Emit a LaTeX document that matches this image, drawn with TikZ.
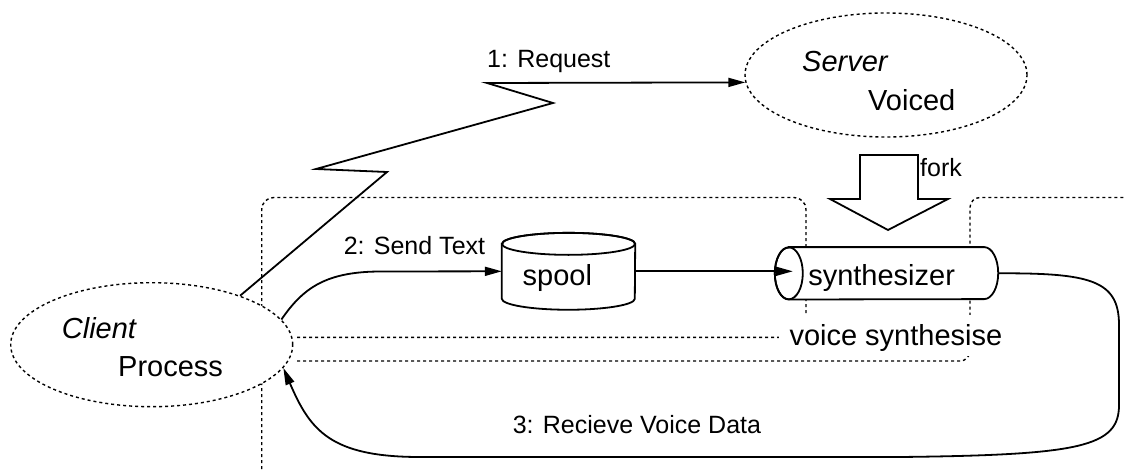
\documentclass[tikz,border=0pt]{standalone}
\usepackage{fontspec}
\setmainfont{Liberation Sans}
\usetikzlibrary{arrows.meta,calc,shapes.geometric}
\pgfdeclarelayer{bg}
\pgfdeclarelayer{drums}
\pgfsetlayers{bg,drums,main}
\tikzset{
  bigtext/.style={font=\fontsize{29}{34}\selectfont},
  bigit/.style={font=\fontsize{29}{34}\selectfont\itshape},
  smalltext/.style={font=\fontsize{25}{30}\selectfont},
  txt/.style={anchor=base west, inner sep=0pt},
  boundary/.style={line width=1.4pt, dash pattern=on 3pt off 3pt},
  proc/.style={ellipse, draw, boundary, fill=white, minimum width=282pt,
    minimum height=124pt, inner sep=0pt},
  wire/.style={line width=1.8pt},
  flow/.style={wire, -{Triangle[length=17pt,width=9pt]}},
}
\begin{document}
\begin{tikzpicture}[x=1pt,y=1pt]
\useasboundingbox (0,0) rectangle (1126,475);

% process boundaries (dotted), kept underneath everything else
\begin{pgfonlayer}{bg}
  \draw[boundary, rounded corners=12pt]
    (297,137.7) -- (806,137.7) -- (806,277.5) -- (261.7,277.5) -- (261.7,5);
  \draw[boundary, rounded corners=10pt]
    (297,114) -- (970,114) -- (970,277.5) -- (1124,277.5);
\end{pgfonlayer}

% server and client processes
\node[proc] (server) at (886,400) {};
\node[proc] (client) at (151.7,130.3) {};
\node[txt,bigit]   (servername) at (802,403.3) {Server};
\node[txt,bigtext] (serverprog) at (868,365)   {Voiced};
\node[txt,bigit]   (clientname) at (61.7,137)  {Client};
\node[txt,bigtext] (clientprog) at (118,99)    {Process};

% spool drum and synthesizer pipe
\node[bigtext, inner ysep=0pt, inner xsep=20.7pt, text width=91.6pt, align=left,
      text height=41pt, text depth=13.5pt] (spool) at (568.5,203.7) {spool};
\node[bigtext, inner ysep=0pt, inner xsep=33.3pt, text width=156.4pt, align=left,
      text height=37.7pt, text depth=14.3pt] (synth) at (886.5,201.7) {synthesizer};

\begin{pgfonlayer}{drums}
  \draw[wire, fill=white] (spool.north west) -- (spool.south west)
    arc[start angle=180, end angle=360, x radius=66.5pt, y radius=11pt]
    -- (spool.north east)
    arc[start angle=0, end angle=180, x radius=66.5pt, y radius=11pt] -- cycle;
  \draw[wire] (spool.north) ellipse[x radius=66.5pt, y radius=11pt];

  \draw[wire, fill=white] ([xshift=14pt]synth.north west) -- ([xshift=-14pt]synth.north east)
    arc[start angle=90, end angle=-90, x radius=14pt, y radius=26pt]
    -- ([xshift=14pt]synth.south west)
    arc[start angle=270, end angle=90, x radius=14pt, y radius=26pt] -- cycle;
  \draw[wire] ([xshift=14pt]synth.west) ellipse[x radius=14pt, y radius=26pt];
\end{pgfonlayer}

% label of the synthesis process boundary
\node[bigtext, anchor=base west, fill=white, inner xsep=11pt, inner ysep=9pt,
      text depth=2pt] (vslbl) at (778.3,130) {voice synthesise};

% fork block arrow
\draw[wire] (860,320) -- (918,320) -- (918,276) -- (948,276) -- (888,245)
  -- (830,276) -- (860,276) -- cycle;
\node[txt,smalltext] (forklbl) at (920,298.3) {fork};

% 1: request (zig-zag network link)
\draw[flow] (client.29) -- (387,303) -- (316,306) -- (553,372) -- (487,392) -- (server.183);
\node[txt,smalltext] (reqlbl) at (487,407.5) {1: Request};

% 2: send text
\draw[flow] (client.11) .. controls +(22,32) and +(-55,0) .. ++(100,48) -- (spool.west);
\node[txt,smalltext] (sendlbl) at (343.6,221) {2: Send Text};

% spool to synthesizer
\draw[flow] (spool.east) -- ($(spool.east -| synth.west)+(18,0)$);

% 3: receive voice data
\draw[flow] (synth.east) .. controls (1090,202) and (1119,195) .. (1119,150)
  -- (1119,70) .. controls (1119,28) and (1080,20) .. (900,18)
  -- (420,18) .. controls (330,18) and (310,45) .. (client.-10);
\node[txt,smalltext] (recvlbl) at (512.6,42) {3: Recieve Voice Data};
\end{tikzpicture}
\end{document}
